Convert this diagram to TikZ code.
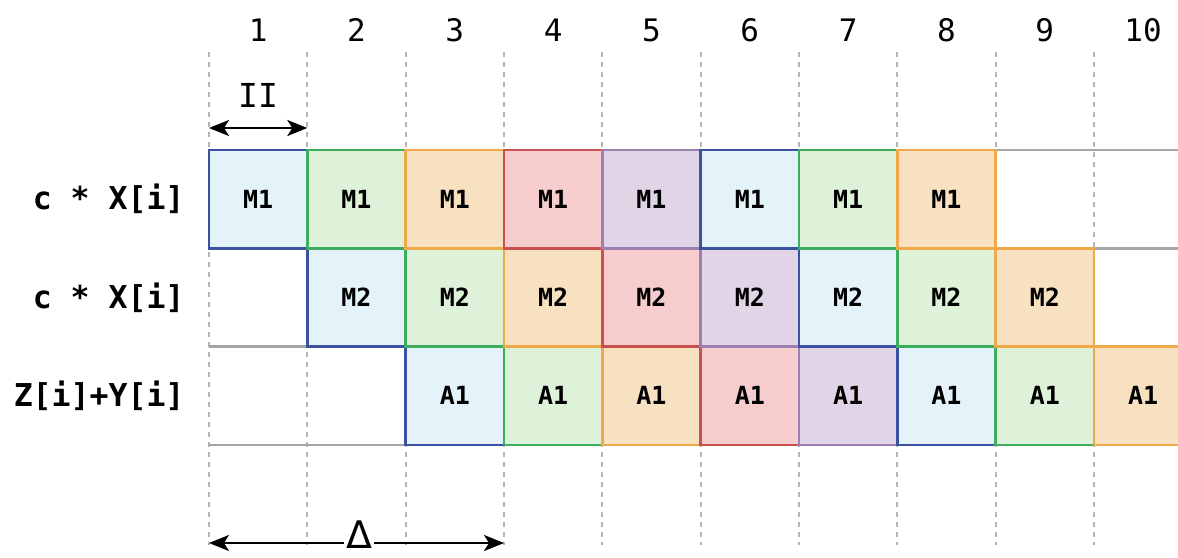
\documentclass[tikz,border=0pt]{standalone}
\usepackage{fontspec}
\setmainfont{DejaVu Sans Mono}
\newfontfamily\dvsans{DejaVu Sans}
\usetikzlibrary{arrows.meta}
\definecolor{bfill}{HTML}{E4F3F9}\definecolor{bdraw}{HTML}{3A52A0}
\definecolor{gfill}{HTML}{DEF2DA}\definecolor{gdraw}{HTML}{3DAE5E}
\definecolor{ofill}{HTML}{F7E1C0}\definecolor{odraw}{HTML}{EFA84A}
\definecolor{rfill}{HTML}{F6CDCC}\definecolor{rdraw}{HTML}{C8504E}
\definecolor{pfill}{HTML}{E1D4E7}\definecolor{pdraw}{HTML}{9E7DB3}
\definecolor{gridgray}{HTML}{A6A6A6}
\definecolor{dashgray}{HTML}{B4B4B4}
\tikzset{
  cell/.style={draw, line width=2.4pt, minimum width=98.33pt, minimum height=98.33pt,
    inner sep=0pt, outer sep=0pt, font=\fontsize{25}{30}\selectfont\bfseries},
  cb/.style={cell, fill=bfill, draw=bdraw},
  cg/.style={cell, fill=gfill, draw=gdraw},
  co/.style={cell, fill=ofill, draw=odraw},
  cr/.style={cell, fill=rfill, draw=rdraw},
  cp/.style={cell, fill=pfill, draw=pdraw},
  gridline/.style={draw=gridgray, line width=2.4pt},
  vdash/.style={draw=dashgray, line width=2pt, dash pattern=on 5pt off 5pt},
  dimarrow/.style={line width=2.4pt, {Stealth[length=20pt,width=16pt,inset=5pt]}-{Stealth[length=20pt,width=16pt,inset=5pt]}},
  colnum/.style={font=\fontsize{31}{37}\selectfont},
  rowlab/.style={anchor=east, font=\fontsize{31.5}{38}\selectfont\bfseries},
}
\begin{document}
\begin{tikzpicture}[x=1pt,y=-1pt]
\useasboundingbox (0,0) rectangle (1178,557);
\begin{scope}
\clip (0,0) rectangle (1178,557);
% dashed column lines
\foreach \k in {0,...,9} {
  \coordinate (t\k) at ({209+98.33*\k},52);
  \coordinate (b\k) at ({209+98.33*\k},545);
  \draw[vdash] (t\k) -- (b\k);
}
% horizontal grid lines
\foreach \r/\yy in {0/150,1/248.33,2/346.67,3/445} {
  \coordinate (hl\r) at (209,\yy);
  \coordinate (hr\r) at (1178,\yy);
  \draw[gridline] (hl\r) -- (hr\r);
}
% row 3
\foreach \c [count=\i, evaluate=\i as \xx using {209+98.33*(\i+1.5)}] in {b,g,o,r,p,b,g,o}
  \node[c\c] (r3c\i) at (\xx,395.83) {A1};
% row 2
\foreach \c [count=\i, evaluate=\i as \xx using {209+98.33*(\i+0.5)}] in {b,g,o,r,p,b,g,o}
  \node[c\c] (r2c\i) at (\xx,297.5) {M2};
% row 1
\foreach \c [count=\i, evaluate=\i as \xx using {209+98.33*(\i-0.5)}] in {b,g,o,r,p,b,g,o}
  \node[c\c] (r1c\i) at (\xx,199.17) {M1};
\end{scope}
% column numbers
\foreach \k in {1,...,10}
  \node[colnum] (n\k) at ({209+98.33*(\k-0.5)},30) {\k};
% row labels
\node[rowlab] (l1) at (188,199) {c * X[i]};
\node[rowlab] (l2) at (188,298) {c * X[i]};
\node[rowlab] (l3) at (188,396) {Z[i]+Y[i]};
% II arrow
\coordinate (ia) at (209,128);
\coordinate (ib) at (307.33,128);
\draw[dimarrow] (ia) -- (ib);
\node[font=\fontsize{33}{39}\selectfont] (ii) at (258,95) {II};
% Delta arrow
\coordinate (da) at (209,543);
\coordinate (db) at (504,543);
\draw[dimarrow] (da) -- (db);
\node[anchor=base, fill=white, inner xsep=2pt, inner ysep=1pt, text depth=0pt, font=\dvsans\fontsize{38}{42}\selectfont] (delta) at (359,548) {Δ};
\end{tikzpicture}
\end{document}
